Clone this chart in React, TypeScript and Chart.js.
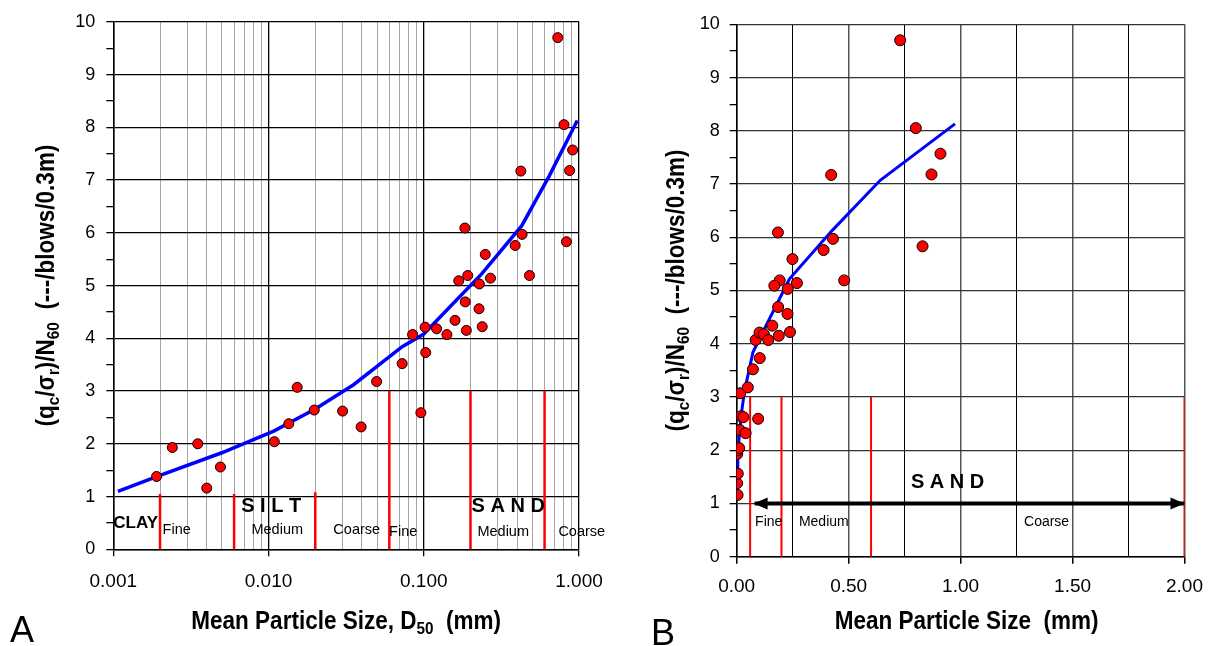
import { useEffect, useRef } from "react";
import { Chart, registerables } from "chart.js";

Chart.register(...registerables);

const FONT = "'Liberation Sans', Arial, Helvetica, sans-serif";

// ---- data ----
const sizeMm = [
  0.0019, 0.0024, 0.0035, 0.004, 0.0049, 0.0109, 0.0135, 0.0153, 0.0197, 0.03,
  0.0395, 0.0497, 0.0726, 0.0847, 0.0958, 0.102, 0.103, 0.121, 0.141, 0.159,
  0.185, 0.188, 0.227, 0.238, 0.73, 0.8, 0.91, 0.422, 0.87, 0.184,
  0.43, 0.388, 0.83, 0.249, 0.192, 0.168, 0.228, 0.269, 0.48,
];
const ratio = [
  1.38, 1.93, 2.0, 1.16, 1.56, 2.04, 2.38, 3.07, 2.64, 2.62,
  2.32, 3.18, 3.52, 4.07, 2.59, 4.21, 3.73, 4.18, 4.07, 4.34,
  4.69, 4.15, 4.56, 4.22, 9.7, 8.05, 7.57, 7.17, 7.18, 6.09,
  5.97, 5.76, 5.83, 5.59, 5.19, 5.09, 5.03, 5.14, 5.19,
];
const trendSize = [0.00107, 0.002, 0.005, 0.0108, 0.02, 0.0353, 0.0726, 0.1, 0.236, 0.427, 0.641, 0.975];
const trendRatio = [1.1, 1.4, 1.83, 2.24, 2.66, 3.12, 3.84, 4.08, 5.22, 6.13, 7.07, 8.13];

// class boundaries (red lines)
const leftBoundSize = [0.002, 0.006, 0.02, 0.06, 0.2, 0.6];
const leftBoundTop = [1.05, 1.05, 1.08, 3, 3, 3];
const rightBoundSize = [0.06, 0.2, 0.6, 2.0];
const rightBoundTop = [3, 3, 3, 3];

// sand arrow (right chart)
const arrowFrom = 0.08;
const arrowTo = 2.0;
const arrowAt = 1;

// tick labels
const decadeValues = [0.001, 0.01, 0.1, 1];
const decadeLabels = ["0.001", "0.010", "0.100", "1.000"];
const linearValues = [0, 0.5, 1, 1.5, 2];
const linearLabels = ["0.00", "0.50", "1.00", "1.50", "2.00"];
const yLabelValues = [0, 1, 2, 3, 4, 5, 6, 7, 8, 9, 10];

// annotation texts
const leftNotes = [
  { text: "CLAY", x: 0.001, y: 0.49, bold: true, size: 17, align: "left" },
  { text: "S I L T", x: 0.0104, y: 0.82, bold: true, size: 20, align: "center" },
  { text: "S A N D", x: 0.35, y: 0.82, bold: true, size: 20, align: "center" },
  { text: "Fine", x: 0.00256, y: 0.36, bold: false, size: 14.5, align: "center" },
  { text: "Medium", x: 0.01138, y: 0.36, bold: false, size: 14.5, align: "center" },
  { text: "Coarse", x: 0.037, y: 0.36, bold: false, size: 14.5, align: "center" },
  { text: "Fine", x: 0.0737, y: 0.33, bold: false, size: 14.5, align: "center" },
  { text: "Medium", x: 0.325, y: 0.33, bold: false, size: 14.5, align: "center" },
  { text: "Coarse", x: 1.042, y: 0.33, bold: false, size: 14.5, align: "center" },
];
const rightNotes = [
  { text: "S A N D", x: 0.942, y: 1.4, bold: true, size: 20, align: "center" },
  { text: "Fine", x: 0.143, y: 0.64, bold: false, size: 14, align: "center" },
  { text: "Medium", x: 0.389, y: 0.64, bold: false, size: 14, align: "center" },
  { text: "Coarse", x: 1.384, y: 0.64, bold: false, size: 14, align: "center" },
];

type Run = { t: string; sub?: boolean };
const yTitleRuns: Run[] = [
  { t: "(q" }, { t: "c", sub: true }, { t: "/σ" }, { t: "r", sub: true },
  { t: ")/N" }, { t: "60", sub: true }, { t: "  (---/blows/0.3m)" },
];
const leftXTitle: Run[] = [{ t: "Mean Particle Size, D" }, { t: "50", sub: true }, { t: "  (mm)" }];
const rightXTitle: Run[] = [{ t: "Mean Particle Size  (mm)" }];

// ---- helpers ----
const isDecade = (v: number | undefined) => {
  if (v === undefined || v <= 0) return false;
  const l = Math.log10(v);
  return Math.abs(l - Math.round(l)) < 1e-6;
};
const near = (a: number, b: number) => Math.abs(a - b) < 1e-6 * Math.max(1, Math.abs(b));
const logGrid: number[] = [];
for (let d = 0; d < 3; d++) for (let k = 1; k <= 9; k++) logGrid.push(k * decadeValues[d]);
logGrid.push(1);

function drawRuns(ctx: CanvasRenderingContext2D, runs: Run[], size: number, cx: number, cy: number, rotate: boolean, hScale: number) {
  ctx.save();
  ctx.translate(cx, cy);
  if (rotate) ctx.rotate(-Math.PI / 2);
  ctx.scale(hScale, 1);
  const main = `bold ${size}px ${FONT}`;
  const sub = `bold ${size * 0.68}px ${FONT}`;
  let total = 0;
  for (const r of runs) { ctx.font = r.sub ? sub : main; total += ctx.measureText(r.t).width; }
  let x = -total / 2;
  ctx.textAlign = "left";
  ctx.textBaseline = "alphabetic";
  ctx.fillStyle = "#000";
  for (const r of runs) {
    ctx.font = r.sub ? sub : main;
    ctx.fillText(r.t, x, r.sub ? size * 0.2 : 0);
    x += ctx.measureText(r.t).width;
  }
  ctx.restore();
}

type Side = "left" | "right";

function makeConfig(side: Side): any {
  const isLeft = side === "left";
  const points = sizeMm.map((x, i) => ({ x, y: ratio[i] }));
  const trend = trendSize.map((x, i) => ({ x, y: trendRatio[i] }));
  const boundX = isLeft ? leftBoundSize : rightBoundSize;
  const boundTop = isLeft ? leftBoundTop : rightBoundTop;

  const datasets: any[] = [
    {
      data: points, showLine: false, pointRadius: isLeft ? 5 : 5.5, pointHoverRadius: isLeft ? 5 : 5.5,
      pointBackgroundColor: "#ff0000", pointBorderColor: "#000", pointBorderWidth: 1,
    },
    {
      data: trend, showLine: true, pointRadius: 0, pointHoverRadius: 0, borderColor: "#0000ff",
      borderWidth: isLeft ? 3.5 : 3, tension: 0, fill: false,
    },
  ];
  if (!isLeft) {
    datasets.push({
      data: [{ x: arrowFrom, y: arrowAt }, { x: arrowTo, y: arrowAt }], showLine: true, pointRadius: 0,
      pointHoverRadius: 0, borderColor: "#000", borderWidth: 4, tension: 0, fill: false,
    });
  }
  boundX.forEach((x, i) => {
    datasets.push({
      data: [{ x, y: 0 }, { x, y: boundTop[i] }], showLine: true, pointRadius: 0, pointHoverRadius: 0,
      borderColor: "#ff0000", borderWidth: isLeft ? 2.5 : 2, tension: 0, fill: false,
    });
  });

  const notes = isLeft ? leftNotes : rightNotes;

  const decor = {
    id: "decor",
    afterDatasetsDraw(chart: any) {
      const ctx: CanvasRenderingContext2D = chart.ctx;
      const xs = chart.scales.x;
      const ys = chart.scales.y;
      if (!isLeft) {
        const y = ys.getPixelForValue(arrowAt);
        const x1 = xs.getPixelForValue(arrowFrom);
        const x2 = xs.getPixelForValue(arrowTo);
        ctx.save();
        ctx.fillStyle = "#000";
        ctx.beginPath();
        ctx.moveTo(x1 - 1, y); ctx.lineTo(x1 + 13, y - 6); ctx.lineTo(x1 + 13, y + 6); ctx.closePath(); ctx.fill();
        ctx.beginPath();
        ctx.moveTo(x2, y); ctx.lineTo(x2 - 14, y - 6); ctx.lineTo(x2 - 14, y + 6); ctx.closePath(); ctx.fill();
        ctx.restore();
      }
    },
    afterDraw(chart: any) {
      const ctx: CanvasRenderingContext2D = chart.ctx;
      const xs = chart.scales.x;
      const ys = chart.scales.y;
      const area = chart.chartArea;
      ctx.save();
      ctx.fillStyle = "#000";
      ctx.textBaseline = "middle";
      for (const n of notes) {
        ctx.font = `${n.bold ? "bold " : ""}${n.size}px ${FONT}`;
        ctx.textAlign = n.align as CanvasTextAlign;
        ctx.fillText(n.text, xs.getPixelForValue(n.x), ys.getPixelForValue(n.y));
      }
      ctx.restore();
      // axis titles
      const cy = (area.top + area.bottom) / 2;
      drawRuns(ctx, yTitleRuns, 25, isLeft ? 54 : 64, cy, true, 0.9);
      const cx = (area.left + area.right) / 2 + (isLeft ? 0 : 6);
      drawRuns(ctx, isLeft ? leftXTitle : rightXTitle, 25, cx, 629, false, 0.9);
      // panel letter
      ctx.save();
      ctx.fillStyle = "#000";
      ctx.font = `36px ${FONT}`;
      ctx.textAlign = "left";
      ctx.textBaseline = "alphabetic";
      ctx.fillText(isLeft ? "A" : "B", isLeft ? 10 : 31, isLeft ? 642 : 645);
      ctx.restore();
    },
  };

  const xScale: any = isLeft
    ? {
        type: "logarithmic", min: 0.001, max: 1,
        afterBuildTicks: (s: any) => { s.ticks = logGrid.map((v) => ({ value: v, major: isDecade(v) })); },
        afterFit: (s: any) => { s.height = 646 - 549.3; },
        ticks: {
          autoSkip: false, maxRotation: 0, minRotation: 0, padding: 14, color: "#000",
          font: { family: FONT, size: 19 },
          callback: (v: number) => {
            const i = decadeValues.findIndex((d) => near(v, d));
            return i >= 0 ? decadeLabels[i] : "";
          },
        },
        grid: {
          color: (c: any) => (isDecade(c.tick?.value) ? "#000" : "#a6a6a6"),
          lineWidth: (c: any) => (isDecade(c.tick?.value) ? 1.3 : 1),
          tickColor: (c: any) => (isDecade(c.tick?.value) ? "#000" : "rgba(0,0,0,0)"),
          tickLength: 7,
        },
        border: { color: "#000", width: 1.5 },
      }
    : {
        type: "linear", min: 0, max: 2,
        afterFit: (s: any) => { s.height = 646 - 556.7; },
        ticks: {
          stepSize: 0.25, autoSkip: false, maxRotation: 0, minRotation: 0, padding: 12, color: "#000",
          font: { family: FONT, size: 19 },
          callback: (v: number) => {
            const i = linearValues.findIndex((d) => near(v, d));
            return i >= 0 ? linearLabels[i] : "";
          },
        },
        grid: {
          color: (c: any) => (c.tick && linearValues.some((d) => near(c.tick.value, d)) ? "#555" : "#000"),
          lineWidth: (c: any) => (c.tick && linearValues.some((d) => near(c.tick.value, d)) ? 1.5 : 1),
          tickColor: (c: any) => (c.tick && linearValues.some((d) => near(c.tick.value, d)) ? "#000" : "rgba(0,0,0,0)"),
          tickLength: 7,
        },
        border: { color: "#000", width: 1.5 },
      };

  const yScale: any = {
    type: "linear", min: 0, max: 10,
    afterFit: (s: any) => { s.width = isLeft ? 113.3 : 116.7; },
    ticks: {
      stepSize: 0.5, autoSkip: false, padding: isLeft ? 11 : 10, color: "#000",
      font: { family: FONT, size: 18 },
      callback: (v: number) => {
        const i = yLabelValues.findIndex((d) => near(v, d));
        return i >= 0 ? String(yLabelValues[i]) : "";
      },
    },
    grid: {
      color: (c: any) => (c.tick && Number.isInteger(Math.round(c.tick.value * 1e6) / 1e6) ? (isLeft ? "#000" : "#333") : "rgba(0,0,0,0)"),
      lineWidth: 1.3,
      tickColor: "#000",
      tickLength: 7,
    },
    border: { color: "#000", width: 1.5 },
  };

  return {
    type: "scatter",
    data: { datasets },
    options: {
      responsive: false,
      animation: false,
      devicePixelRatio: 1,
      events: [],
      layout: { padding: isLeft ? { top: 16.7, right: 41, left: 0, bottom: 0 } : { top: 24.3, right: 26, left: 0, bottom: 0 } },
      plugins: { legend: { display: false }, tooltip: { enabled: false }, title: { display: false } },
      scales: { x: xScale, y: yScale },
    },
    plugins: [decor],
  };
}

export default function App() {
  const leftRef = useRef<HTMLCanvasElement>(null);
  const rightRef = useRef<HTMLCanvasElement>(null);
  useEffect(() => {
    const a = new Chart(leftRef.current as HTMLCanvasElement, makeConfig("left"));
    const b = new Chart(rightRef.current as HTMLCanvasElement, makeConfig("right"));
    return () => {
      a.destroy();
      b.destroy();
    };
  }, []);
  return (
    <div style={{ position: "absolute", left: 0, top: 0, width: 1215, height: 646, background: "#fff", overflow: "hidden" }}>
      <canvas ref={leftRef} width={620} height={646} style={{ position: "absolute", left: 0, top: 0, width: 620, height: 646 }} />
      <canvas ref={rightRef} width={595} height={646} style={{ position: "absolute", left: 620, top: 0, width: 595, height: 646 }} />
    </div>
  );
}
